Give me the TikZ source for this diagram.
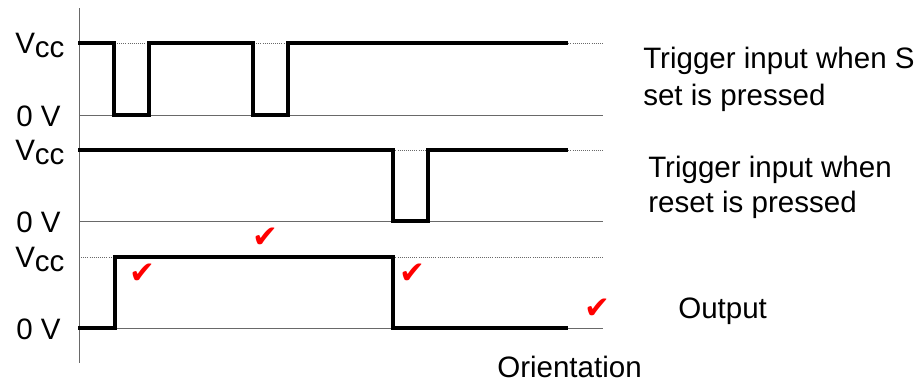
\documentclass[tikz,border=0pt]{standalone}
\usepackage{fontspec}
\setmainfont{Liberation Sans}
\newfontfamily\symfont{DejaVu Sans}
\definecolor{refgray}{RGB}{105,105,105}

\tikzset{
  level/.style={refgray, line width=0.5pt},
  vcclevel/.style={refgray, line width=0.5pt, densely dotted},
  signal/.style={line width=2.2pt, line join=miter},
  lab/.style={inner sep=0pt, anchor=base west, font=\fontsize{21}{24}\selectfont},
  okmark/.style={inner sep=0pt, red, font=\symfont\fontsize{22}{22}\selectfont},
}

\begin{document}
\begin{tikzpicture}[x=0.025cm, y=-0.025cm]
\useasboundingbox (0,0) rectangle (919,383);
\clip (0,0) rectangle (919,383);

% time axis
\draw [refgray, line width=0.6pt] (79,8) -- (79,363);

% levels and level labels
\foreach \hi/\lo/\n in {43/115/1, 150/221/2, 257/328/3} {
  \draw [vcclevel] (79,\hi) -- (603,\hi);
  \draw [level] (79,\lo) -- (603,\lo);
  \node [lab] (vcc\n) at (15,\hi+10) {V\raisebox{-3.5pt}{cc}};
  \node [lab] (zero\n) at (16,\lo+11) {0 V};
}

% set trigger
\draw [signal] (78,43) -- (114,43) -- (114,115) -- (149,115) -- (149,43)
  -- (253,43) -- (253,115) -- (288,115) -- (288,43) -- (568,43);
% reset trigger
\draw [signal] (78,150) -- (393,150) -- (393,221) -- (428,221) -- (428,150) -- (568,150);
% output
\draw [signal] (78,328) -- (115,328) -- (115,257) -- (393,257) -- (393,328) -- (568,328);

\node [okmark] (ok1) at (265,238) {✔};
\node [okmark] (ok2) at (142,274) {✔};
\node [okmark] (ok3) at (412,274) {✔};
\node [okmark] (ok4) at (597,309) {✔};

\node [lab] (set1) at (643,68) {Trigger input when S};
\node [lab] (set2) at (643,105) {set is pressed};
\node [lab] (rst1) at (648,177) {Trigger input when};
\node [lab] (rst2) at (648,212) {reset is pressed};
\node [lab] (out) at (678,318) {Output};
\node [lab] (orient) at (497,377) {Orientation};
\end{tikzpicture}
\end{document}
